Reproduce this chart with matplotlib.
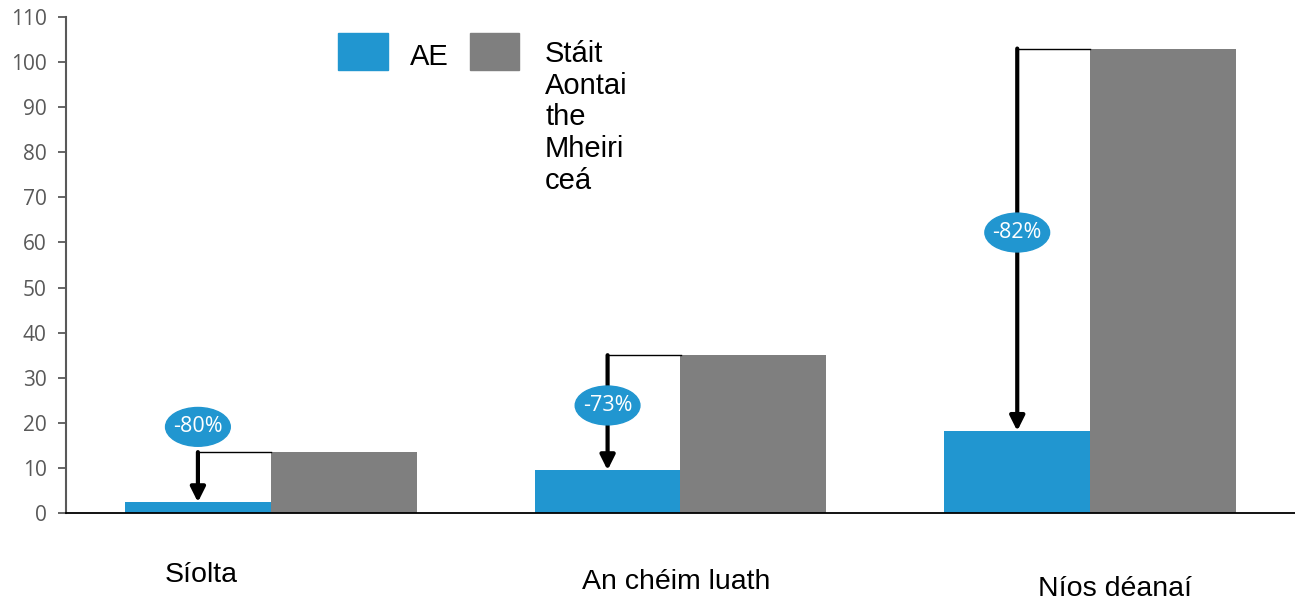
import matplotlib.pyplot as plt
from matplotlib.patches import Rectangle, Ellipse

categories = ['Síolta', 'An chéim luath', 'Níos déanaí']
ae_vals = [2.4, 9.5, 18.2]
us_vals = [13.5, 35.0, 103.0]
pct_labels = ['-80%', '-73%', '-82%']
legend_labels = ['AE', 'Stáit\nAontai\nthe\nMheiri\nceá']

blue = '#2196d0'
grey = '#7f7f7f'

fig = plt.figure(figsize=(12.95, 6), dpi=100)
ax = fig.add_axes([66/1295, 87/600, 1229/1295, 496/600])

w = 0.356
x = list(range(len(categories)))
ax.bar([i - w/2 for i in x], ae_vals, width=w, color=blue, zorder=2)
ax.bar([i + w/2 for i in x], us_vals, width=w, color=grey, zorder=2)

# drop arrows + labels
for i in x:
    xa = i - w/2
    ax.plot([xa, i], [us_vals[i], us_vals[i]], color='black', lw=1, zorder=3)
    ax.annotate('', xy=(xa, ae_vals[i]), xytext=(xa, us_vals[i]),
                arrowprops=dict(arrowstyle='-|>', lw=3, color='black',
                                mutation_scale=22, shrinkA=0, shrinkB=0),
                zorder=3)
    gap = us_vals[i] - ae_vals[i]
    if gap < 20:
        ly = us_vals[i] + 5.6
    else:
        ly = (us_vals[i] + ae_vals[i]) / 2 + 1.6
    ax.add_patch(Ellipse((xa, ly), 0.158, 8.6, color=blue, zorder=4))
    ax.text(xa, ly, pct_labels[i], ha='center', va='center', color='white',
            fontsize=15.5, family='Open Sans', zorder=5)

ax.set_xlim(-0.5, 2.5)
ax.set_ylim(0, 110)
ax.set_yticks(range(0, 111, 10))
ax.set_xticks([])
for lab in ax.get_yticklabels():
    lab.set_family('Open Sans')
ax.tick_params(axis='y', labelsize=15, labelcolor='#595959', color='#595959',
               length=6, width=1.3, pad=8)
for s in ['top', 'right']:
    ax.spines[s].set_visible(False)
ax.spines['left'].set_color('#595959')
ax.spines['left'].set_linewidth(1.5)
ax.spines['bottom'].set_color('black')
ax.spines['bottom'].set_linewidth(1.3)

# category labels (staggered below axis)
cat_x = [-0.17, 0.99, 2.06]
cat_y = [-15.3, -16.85, -18.4]
for cx, cy, c in zip(cat_x, cat_y, categories):
    ax.text(cx, cy, c, ha='center', va='baseline', fontsize=20.5,
            family='Liberation Sans', clip_on=False)

# legend drawn by hand
fig.patches.append(Rectangle((338/1295, 1 - 70/600), 50/1295, 37/600,
                             transform=fig.transFigure, color=blue))
fig.patches.append(Rectangle((470/1295, 1 - 70/600), 49/1295, 37/600,
                             transform=fig.transFigure, color=grey))
fig.text(410/1295, 1 - 57/600, legend_labels[0], ha='left', va='center',
         fontsize=21, family='Liberation Sans')
fig.text(545/1295, 1 - 40/600, legend_labels[1], ha='left', va='top',
         fontsize=21, family='Liberation Sans', linespacing=1.17)

fig.savefig('out.png', dpi=100)
